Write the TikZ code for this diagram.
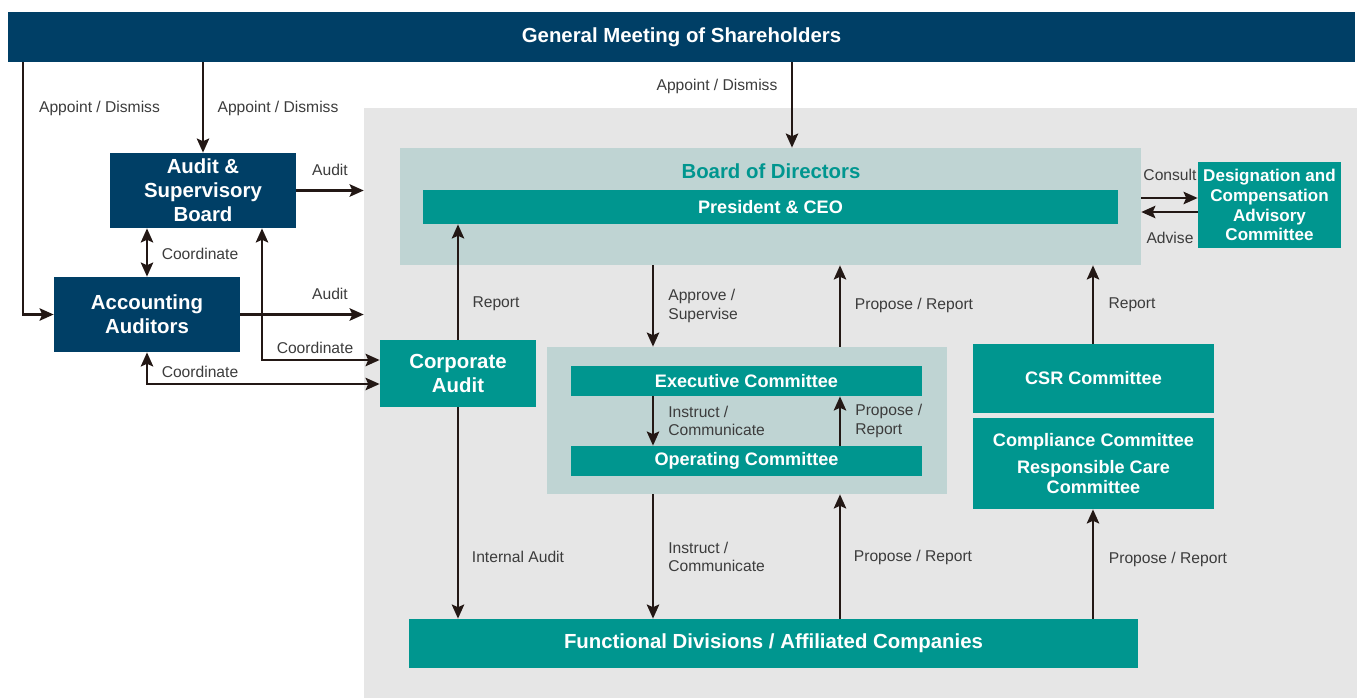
\documentclass[tikz,border=0pt]{standalone}
\usepackage{fontspec}
\setmainfont{Liberation Sans}
\usetikzlibrary{arrows.meta}
\definecolor{navy}{HTML}{003F66}
\definecolor{tealgreen}{HTML}{00968F}
\definecolor{paleteal}{HTML}{BFD4D3}
\definecolor{bggray}{HTML}{E6E6E6}
\definecolor{arrowink}{HTML}{231815}
\definecolor{labelink}{HTML}{3C3C3C}
\begin{document}
\begin{tikzpicture}[x=0.02cm, y=-0.02cm,
        box/.style = {inner sep=0pt, align=center, text=white, font=\bfseries\fontsize{11.6}{13.6}\selectfont},
        navybox/.style = {box, fill=navy},
        tealbox/.style = {box, fill=tealgreen},
        midbox/.style = {tealbox, font=\bfseries\fontsize{10.3}{12}\selectfont},
        palebox/.style = {inner sep=0pt, fill=paleteal},
        lbl/.style = {inner sep=0pt, text=labelink, align=left, font=\fontsize{8.9}{10.3}\selectfont},
        arr/.style = {draw=arrowink, line width=1.5pt, -{Stealth[length=8pt,width=7pt,inset=1.5pt]}},
        arrs/.style = {arr, {Stealth[length=8pt,width=7pt,inset=1.5pt]}-{Stealth[length=8pt,width=7pt,inset=1.5pt]}}
    ]
        \useasboundingbox (0,0) rectangle (1357,700);
        \node[fill=bggray, inner sep=0pt, minimum width=19.86cm, minimum height=11.8cm] (bg) at (860.5,403) {};
        % columns and rows of the connectors
        \coordinate (xl) at (23,0);
        \coordinate (xc) at (262,0);
        \coordinate (xgm) at (792,0);
        \coordinate (xa) at (653,0);
        \coordinate (xb) at (840,0);
        \coordinate (xr) at (1093,0);
        \coordinate (yc1) at (0,360);
        \coordinate (yc2) at (0,384);
        \coordinate (yk1) at (0,198);
        \coordinate (yk2) at (0,212);
        % boxes
        \node[navybox, minimum width=26.94cm, minimum height=1cm] (gms) at (681.5,37) {General Meeting of Shareholders};
        \node[navybox, minimum width=3.72cm, minimum height=1.5cm] (asb) at (203,190.5) {Audit \&\\Supervisory\\Board};
        \node[navybox, minimum width=3.72cm, minimum height=1.5cm] (aa) at (147,314.5) {Accounting\\Auditors};
        \node[tealbox, minimum width=3.12cm, minimum height=1.34cm] (ca) at (458,373.5) {Corporate\\Audit};
        \node[palebox, minimum width=14.82cm, minimum height=2.34cm] (bod) at (770.5,206.5) {};
        \node[inner sep=0pt, text=tealgreen, font=\bfseries\fontsize{11.6}{13}\selectfont] (bodt) at (771,171) {Board of Directors};
        \node[midbox, minimum width=13.9cm, minimum height=0.68cm] (ceo) at (770.5,207) {President \& CEO};
        \node[palebox, minimum width=8cm, minimum height=2.94cm] (exa) at (747,420.5) {};
        \node[midbox, minimum width=7.02cm, minimum height=0.6cm] (exc) at (746.5,381) {Executive Committee};
        \node[midbox, minimum width=7.02cm, minimum height=0.6cm] (opc) at (746.5,461) {Operating Committee};
        \node[tealbox, minimum width=14.58cm, minimum height=0.98cm] (fd) at (773.5,643.5) {Functional Divisions / Affiliated Companies};
        \node[midbox, minimum width=4.82cm, minimum height=1.38cm] (csr) at (1093.5,378.5) {CSR Committee};
        \node[midbox, minimum width=4.82cm, minimum height=1.82cm, font=\bfseries\fontsize{10.3}{11.8}\selectfont] (cmp) at (1093.5,463.5) {Compliance Committee\\[3.5pt]Responsible Care\\Committee};
        \node[tealbox, minimum width=2.86cm, minimum height=1.72cm, font=\bfseries\fontsize{9.7}{11.3}\selectfont] (dca) at (1269.5,205) {Designation and\\Compensation\\Advisory\\Committee};
        % connectors
        \draw[arr] (gms.south -| xl) |- (aa.west);
        \draw[arr] (gms.south -| asb.north) -- (asb.north);
        \draw[arr] (gms.south -| xgm) -- (bod.north -| xgm);
        \draw[arr] (asb.east) -- (asb.east -| bg.west);
        \draw[arr] (aa.east) -- (aa.east -| bg.west);
        \draw[arrs] (asb.south -| aa.north) -- (aa.north);
        \draw[arrs] (asb.south -| xc) |- (ca.west |- yc1);
        \draw[arrs] (aa.south) |- (ca.west |- yc2);
        \draw[arr] (ca.north) -- (ceo.south -| ca.north);
        \draw[arr] (ca.south) -- (fd.north -| ca.south);
        \draw[arr] (bod.south -| xa) -- (exa.north -| xa);
        \draw[arr] (exa.north -| xb) -- (bod.south -| xb);
        \draw[arr] (exc.south -| xa) -- (opc.north -| xa);
        \draw[arr] (opc.north -| xb) -- (exc.south -| xb);
        \draw[arr] (exa.south -| xa) -- (fd.north -| xa);
        \draw[arr] (fd.north -| xb) -- (exa.south -| xb);
        \draw[arr] (csr.north -| xr) -- (bod.south -| xr);
        \draw[arr] (fd.north -| xr) -- (cmp.south -| xr);
        \draw[arr] (bod.east |- yk1) -- (dca.west |- yk1);
        \draw[arr] (dca.west |- yk2) -- (bod.east |- yk2);
        % labels
        \node[lbl] (l1) at (99.5,108) {Appoint / Dismiss};
        \node[lbl] (l2) at (278,108) {Appoint / Dismiss};
        \node[lbl] (l3) at (717,86) {Appoint / Dismiss};
        \node[lbl] (l4) at (330,170) {Audit};
        \node[lbl] (l5) at (330,294) {Audit};
        \node[lbl] (l6) at (200,254) {Coordinate};
        \node[lbl] (l7) at (315,348) {Coordinate};
        \node[lbl] (l8) at (200,372) {Coordinate};
        \node[lbl] (l9) at (496,304) {Report};
        \node[lbl, anchor=west] (l10) at (668,306) {Approve /\\Supervise};
        \node[lbl] (l11) at (914,305) {Propose / Report};
        \node[lbl] (l12) at (1132,305) {Report};
        \node[lbl] (l13) at (1170,175) {Consult};
        \node[lbl] (l14) at (1170,238) {Advise};
        \node[lbl, anchor=west] (l15) at (668,421) {Instruct /\\Communicate};
        \node[lbl, anchor=west] (l16) at (855,421) {Propose /\\Report};
        \node[lbl] (l17) at (518,557) {Internal Audit};
        \node[lbl, anchor=west] (l18) at (668,557) {Instruct /\\Communicate};
        \node[lbl] (l19) at (913,557) {Propose / Report};
        \node[lbl] (l20) at (1168,559) {Propose / Report};
\end{tikzpicture}
\end{document}
